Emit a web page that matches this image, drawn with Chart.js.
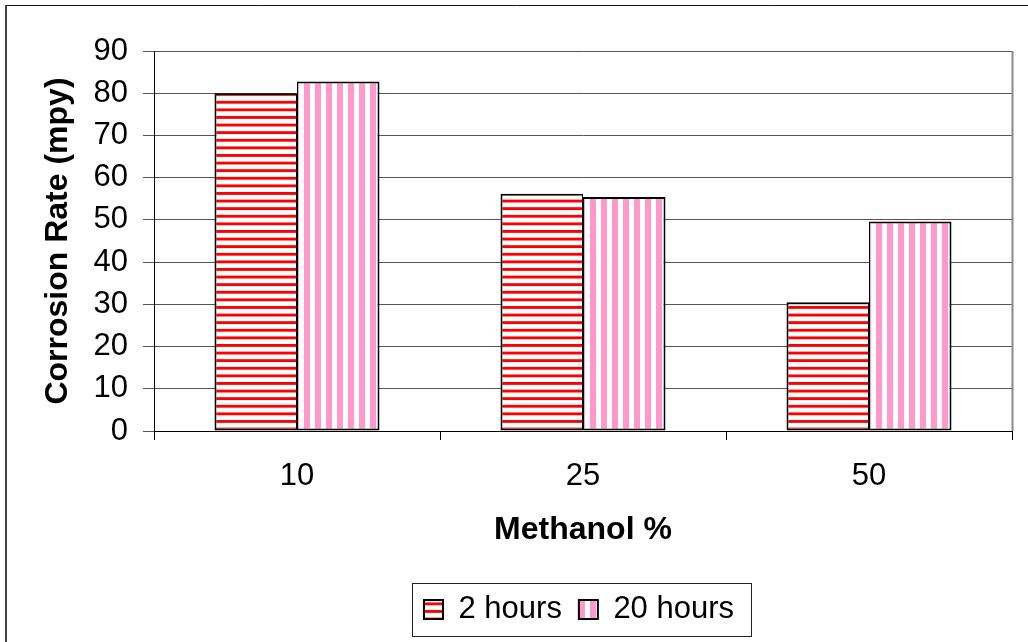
<!DOCTYPE html>
<html>
<head>
<meta charset="utf-8">
<title>Corrosion Rate vs Methanol %</title>
<script src="https://cdn.jsdelivr.net/npm/chart.js@4.4.1/dist/chart.umd.min.js"></script>
<style>
  html, body { margin: 0; padding: 0; background: #fff; }
  #wrap { width: 1028px; height: 642px; position: relative; }
</style>
</head>
<body>
<div id="wrap"><canvas id="chart" width="1028" height="642"></canvas></div>
<script>
// Data
const categories = ['10', '25', '50'];
const seriesLabels = ['2 hours', '20 hours'];
const twoHours = [80, 56.2, 30.5];
const twentyHours = [82.8, 55.4, 49.6];
const yMin = 0, yMax = 90, yStep = 10;

const FONT = "'Liberation Sans', Arial, sans-serif";

// Horizontal red stripes on white
function makeHorizontalStripes() {
  const c = document.createElement('canvas');
  c.width = 8; c.height = 8;
  const g = c.getContext('2d');
  g.fillStyle = '#ffffff'; g.fillRect(0, 0, 8, 8);
  g.fillStyle = '#ff0000'; g.fillRect(0, 0, 8, 3);
  const p = g.createPattern(c, 'repeat');
  p.setTransform(new DOMMatrix().translate(0, 2).scale(1, 0.95));
  return p;
}

// Vertical pink stripes on white
function makeVerticalStripes() {
  const c = document.createElement('canvas');
  c.width = 11; c.height = 11;
  const g = c.getContext('2d');
  g.fillStyle = '#ffffff'; g.fillRect(0, 0, 11, 11);
  g.fillStyle = '#ff99cc'; g.fillRect(0, 0, 6, 11);
  const p = g.createPattern(c, 'repeat');
  p.setTransform(new DOMMatrix().translate(7, 0));
  return p;
}

const ctx = document.getElementById('chart').getContext('2d');

// Page frame, plot-area right edge and legend frame
const framePlugin = {
  id: 'frame',
  afterLayout(chart) {
    // nudge the legend row a little to the left
    if (chart.legend) {
      chart.legend.left -= 4;
      chart.legend.right -= 4;
    }
  },
  beforeDraw(chart) {
    const c = chart.ctx;
    c.save();
    c.fillStyle = '#fff';
    c.fillRect(0, 0, chart.width, chart.height);
    c.restore();
  },
  afterDraw(chart) {
    const c = chart.ctx;
    const a = chart.chartArea;
    c.save();
    // outer frame
    c.strokeStyle = '#111';
    c.lineWidth = 1;
    c.beginPath();
    c.moveTo(5, 5.5); c.lineTo(chart.width, 5.5);
    c.stroke();
    c.strokeStyle = '#404040';
    c.lineWidth = 2;
    c.beginPath();
    c.moveTo(6, 5); c.lineTo(6, chart.height);
    c.stroke();
    // plot area right edge
    c.strokeStyle = '#8a8a8a';
    c.lineWidth = 2;
    c.beginPath();
    c.moveTo(Math.round(a.right) + 0.5, a.top);
    c.lineTo(Math.round(a.right) + 0.5, a.bottom);
    c.stroke();
    // legend frame
    const hb = chart.legend && chart.legend.legendHitBoxes;
    if (hb && hb.length) {
      const first = hb[0], last = hb[hb.length - 1];
      const l = Math.round(first.left - 12) + 0.5;
      const r = Math.round(last.left + last.width + 17) + 0.5;
      const t = Math.round(first.top - 11) + 0.5;
      const b = Math.round(first.top + first.height + 11) + 0.5;
      c.strokeStyle = '#222';
      c.lineWidth = 1;
      c.strokeRect(l, t, r - l, b - t);
    }
    c.restore();
  }
};

new Chart(ctx, {
  type: 'bar',
  data: {
    labels: categories,
    datasets: [
      {
        label: seriesLabels[0],
        data: twoHours,
        backgroundColor: makeHorizontalStripes(),
        borderColor: '#000',
        borderWidth: { left: 2, right: 1, top: 2, bottom: 2 },
        borderSkipped: false,
        barPercentage: 1,
        categoryPercentage: 0.577
      },
      {
        label: seriesLabels[1],
        data: twentyHours,
        backgroundColor: makeVerticalStripes(),
        borderColor: '#000',
        borderWidth: { left: 1, right: 2, top: 2, bottom: 2 },
        borderSkipped: false,
        barPercentage: 1,
        categoryPercentage: 0.577
      }
    ]
  },
  options: {
    responsive: false,
    animation: false,
    devicePixelRatio: 1,
    layout: { padding: { left: 0, top: 51, right: 16, bottom: 7 } },
    plugins: {
      legend: {
        position: 'bottom',
        fullSize: false,
        labels: {
          boxWidth: 19,
          boxHeight: 19,
          padding: 17,
          color: '#000',
          font: { family: FONT, size: 31 },
          generateLabels(chart) {
            const items = Chart.defaults.plugins.legend.labels.generateLabels(chart);
            items.forEach(it => { it.lineWidth = 2; });
            return items;
          }
        }
      },
      tooltip: { enabled: false },
      title: { display: false }
    },
    scales: {
      x: {
        offset: true,
        grid: {
          offset: true,
          drawOnChartArea: false,
          drawTicks: true,
          tickLength: 9,
          color: '#000',
          lineWidth: 1
        },
        border: { display: true, color: '#000', width: 1 },
        ticks: {
          color: '#000',
          padding: 18,
          font: { family: FONT, size: 31 }
        },
        title: {
          display: true,
          text: 'Methanol %',
          color: '#000',
          font: { family: FONT, size: 32, weight: 'bold' },
          padding: { top: 0, bottom: 28 }
        },
        afterFit(scale) { scale.height = 146; }
      },
      y: {
        min: yMin,
        max: yMax,
        grid: {
          color: '#555',
          lineWidth: 1,
          drawTicks: true,
          tickLength: 11
        },
        border: { display: true, color: '#000', width: 1 },
        ticks: {
          stepSize: yStep,
          color: '#000',
          padding: 15,
          font: { family: FONT, size: 31 }
        },
        title: {
          display: true,
          text: 'Corrosion Rate (mpy)',
          color: '#000',
          font: { family: FONT, size: 32, weight: 'bold' },
          padding: { top: 39, bottom: 0 }
        },
        afterFit(scale) { scale.width = 154; }
      }
    }
  },
  plugins: [framePlugin]
});
</script>
</body>
</html>
